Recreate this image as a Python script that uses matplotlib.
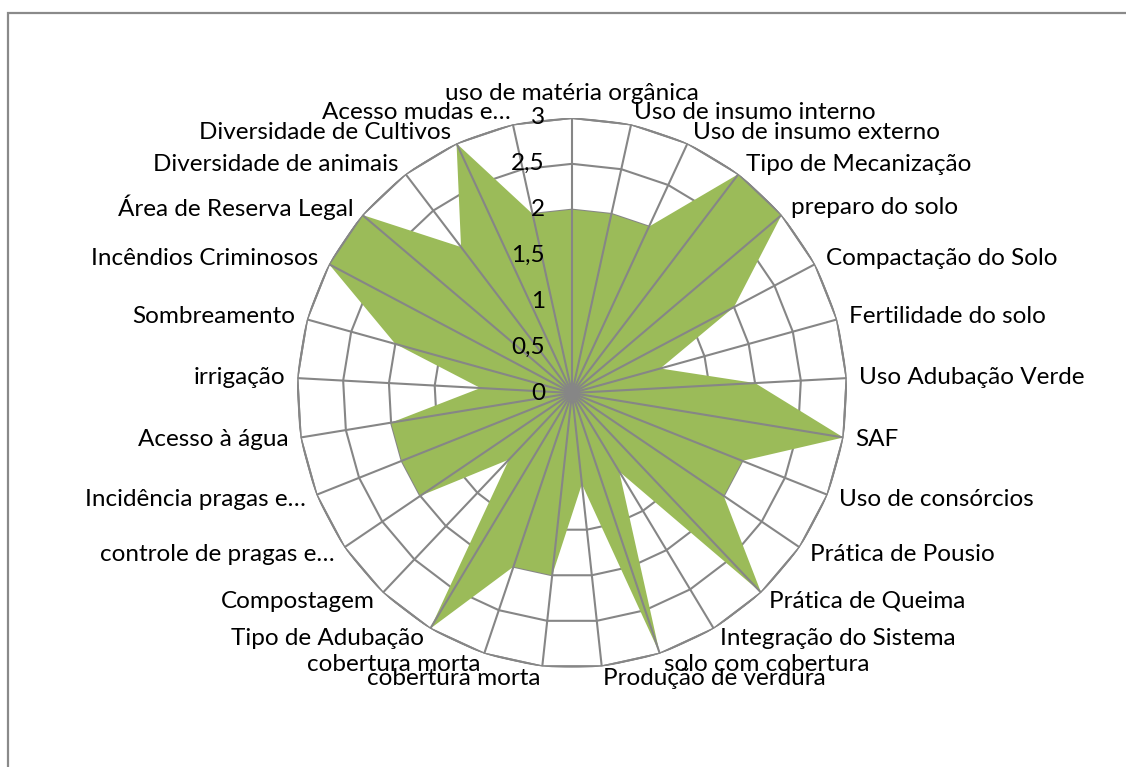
import numpy as np
import matplotlib.pyplot as plt
from matplotlib.patches import Rectangle

# indicadores avaliados (sentido horário a partir do topo)
categories = [
    'uso de matéria orgânica', 'Uso de insumo interno', 'Uso de insumo externo',
    'Tipo de Mecanização', 'preparo do solo', 'Compactação do Solo',
    'Fertilidade do solo', 'Uso Adubação Verde', 'SAF', 'Uso de consórcios',
    'Prática de Pousio', 'Prática de Queima', 'Integração do Sistema',
    'solo com cobertura', 'Produção de verdura', 'cobertura morta',
    'cobertura morta', 'Tipo de Adubação', 'Compostagem',
    'controle de pragas e…', 'Incidência pragas e…', 'Acesso à água',
    'irrigação', 'Sombreamento', 'Incêndios Criminosos',
    'Área de Reserva Legal', 'Diversidade de animais',
    'Diversidade de Cultivos', 'Acesso mudas e…',
]
values = [2, 2, 2, 3, 3, 2, 1, 2, 3, 2, 2, 3, 1, 3, 1, 2, 2, 3, 1, 2,
          2, 2, 1, 2, 3, 3, 2, 3, 2]
tick_values = [0, 0.5, 1, 1.5, 2, 2.5, 3]
tick_labels = ['0', '0,5', '1', '1,5', '2', '2,5', '3']

plt.rcParams['font.family'] = ['Lato', 'DejaVu Sans']
fs = 17.5
grid_color = '#868686'

W, H = 1126, 767
fig = plt.figure(figsize=(W / 100, H / 100), dpi=100)
cx, cy, R = 572, 393, 275
ax = fig.add_axes([(cx - R) / W, (H - cy - R) / H, 2 * R / W, 2 * R / H],
                  projection='polar')
ax.set_theta_zero_location('N')
ax.set_theta_direction(-1)
ax.set_ylim(0, 3)
ax.grid(False)
ax.set_xticks([])
ax.set_yticks([])
ax.spines['polar'].set_visible(False)
ax.patch.set_visible(False)

n = len(categories)
angles = np.arange(n) * 2 * np.pi / n
ang_closed = np.append(angles, angles[0])

# anéis poligonais
for r in tick_values[1:]:
    ax.plot(ang_closed, [r] * (n + 1), color=grid_color, lw=1.5, zorder=1)

ax.fill(ang_closed, values + [values[0]], color='#9BBB59', lw=0, zorder=2)

# raios
for a in angles:
    ax.plot([a, a], [0, 3], color=grid_color, lw=1.5, zorder=3)
ax.plot(ang_closed, [3] * (n + 1), color=grid_color, lw=1.5, zorder=3)

# rótulos das categorias
for a, lab in zip(angles, categories):
    s, c = np.sin(a), np.cos(a)
    if abs(s) < 0.05:
        ha, va, off = 'center', 'bottom', (0, 14)
    else:
        ha = 'left' if s > 0 else 'right'
        va = 'center'
        off = (12 * s, 12 * c)
    ax.annotate(lab, xy=(a, 3), xytext=off, textcoords='offset pixels',
                ha=ha, va=va, fontsize=fs, annotation_clip=False, zorder=5)

# escala radial
for r, lab in zip(tick_values, tick_labels):
    ax.annotate(lab, xy=(0, r), xytext=(-27, 0), textcoords='offset pixels',
                ha='right', va='center', fontsize=fs, annotation_clip=False,
                zorder=5)

# borda da área do gráfico
fig.patches.append(Rectangle((8 / W, -0.1), 1.2, 1 - 13 / H + 0.1,
                             transform=fig.transFigure, fill=False,
                             edgecolor='#8a8a8a', lw=1.6))

fig.savefig('out.png', dpi=100)
